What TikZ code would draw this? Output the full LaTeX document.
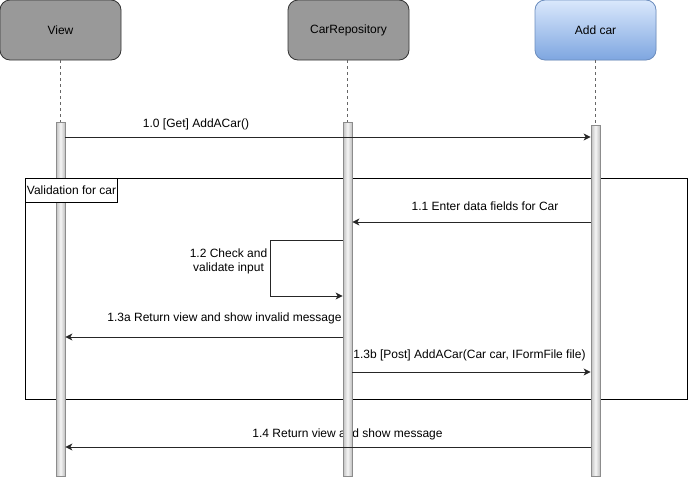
\documentclass[tikz,border=0pt]{standalone}
\usepackage{fontspec}
\setmainfont{Liberation Sans}
\usepackage{xcolor}
\usetikzlibrary{arrows.meta,positioning}

\definecolor{headgray}{HTML}{999999}
\definecolor{addtop}{HTML}{DAE8FC}
\definecolor{addbottom}{HTML}{7EA6E0}
\definecolor{addborder}{HTML}{6C8EBF}
\definecolor{lifegray}{HTML}{666666}

\begin{document}
\begin{tikzpicture}[
    x=1pt, y=-1pt,
    font=\fontsize{12}{14}\selectfont,
    head/.style={rectangle, draw=black!80, rounded corners=10pt, minimum width=121pt, minimum height=60pt, fill=headgray, line width=0.8pt},
    bar/.style={rectangle, draw=gray!90, minimum width=9pt, inner sep=0pt, left color=gray!50, right color=gray!50, middle color=gray!8, line width=0.8pt},
    life/.style={draw=lifegray, dashed, dash pattern=on 3pt off 3pt, line width=0.8pt},
    msg/.style={draw=black!85, line width=0.9pt, -{Stealth[length=7pt, width=7pt, inset=2pt]}},
    lbl/.style={inner sep=0pt, align=center},
    frame/.style={rectangle, draw=black, line width=0.9pt}
]
    \useasboundingbox (0,0) rectangle (688,477);

    % Frame
    \draw[frame] (25,178) rectangle (687,399);

    % Labels
    \node[lbl] (l10) at (196,124) {1.0 [Get] AddACar()};
    \node[lbl] (l11) at (485,206) {1.1 Enter data fields for Car};
    \node[lbl] (l12) at (228.5,261) {1.2 Check and\\validate input};
    \node[lbl] (l13a) at (224.5,318) {1.3a Return view and show invalid message};
    \node[lbl] (l13b) at (469.5,355) {1.3b [Post] AddACar(Car car, IFormFile file)};
    \node[lbl] (l14) at (347.5,434) {1.4 Return view and show message};

    % Headers
    \node[head] (view) at (60.5,30) {View};
    \node[head] (repo) at (348.5,30) {CarRepository};
    \node[head, draw=addborder, top color=addtop, bottom color=addbottom] (add) at (595.5,30) {Add car};

    % Bars
    \node[bar, minimum height=354pt] (viewbar) at (60.5,299) {};
    \node[bar, minimum height=354pt] (repobar) at (347.5,299) {};
    \node[bar, minimum height=351pt] (addbar) at (595.5,300.5) {};

    % Lifelines
    \draw[life] (view.south) -- (viewbar.north);
    \draw[life] (repo.south -| repobar.north) -- (repobar.north);
    \draw[life] (add.south) -- (addbar.north);

    % Message levels
    \coordinate (m10) at (0,137);
    \coordinate (m11) at (0,222);
    \coordinate (m12a) at (0,240);
    \coordinate (m12b) at (0,296);
    \coordinate (m13a) at (0,337);
    \coordinate (m13b) at (0,372);
    \coordinate (m14) at (0,447);
    \coordinate (loop) at (270,0);

    % Messages
    \draw[msg] (viewbar.east |- m10) -- (addbar.west |- m10);
    \draw[msg] (addbar.west |- m11) -- (repobar.east |- m11);
    \draw[msg] (repobar.west |- m12a) -- (loop |- m12a) -- (loop |- m12b) -- (repobar.west |- m12b);
    \draw[msg] (repobar.west |- m13a) -- (viewbar.east |- m13a);
    \draw[msg] (repobar.east |- m13b) -- (addbar.west |- m13b);
    \draw[msg] (addbar.west |- m14) -- (viewbar.east |- m14);

    % Frame title
    \node[frame, fill=white, anchor=north west, minimum height=24pt, inner xsep=1.5pt] (title) at (25,178) {Validation for car};
\end{tikzpicture}
\end{document}
